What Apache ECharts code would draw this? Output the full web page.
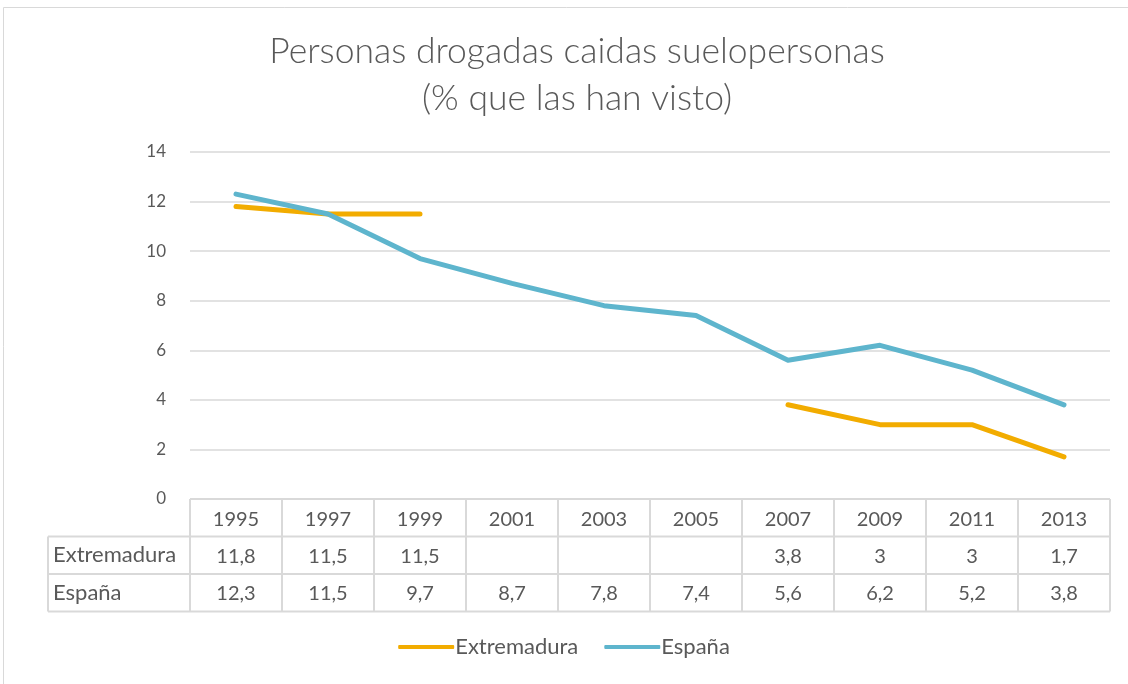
<!DOCTYPE html>
<html>
<head>
<meta charset="utf-8">
<script src="https://cdn.jsdelivr.net/npm/echarts@6/dist/echarts.min.js"></script>
<style>
  html, body { margin: 0; padding: 0; background: #fff; }
  #chart { width: 1128px; height: 684px; }
</style>
</head>
<body>
<div id="chart"></div>
<script>
const years = ['1995', '1997', '1999', '2001', '2003', '2005', '2007', '2009', '2011', '2013']
const extremadura = [11.8, 11.5, 11.5, null, null, null, 3.8, 3, 3, 1.7]
const espana = [12.3, 11.5, 9.7, 8.7, 7.8, 7.4, 5.6, 6.2, 5.2, 3.8]
const yTicks = [0, 2, 4, 6, 8, 10, 12, 14]

const seriesNames = ['Extremadura', 'España']
const seriesColors = ['#F2AC00', '#5EB5CD']
const txt = '#595959'
const lineCol = '#d9d9d9'
const font = 'Lato, "Open Sans", sans-serif'

const chart = echarts.init(document.getElementById('chart'))

const fmt = v => (v === null ? '' : String(v).replace('.', ','))

chart.setOption({
  animation: false,
  textStyle: { fontFamily: font },
  title: {
    text: 'Personas drogadas caidas suelopersonas\n(% que las han visto)',
    left: 572,
    top: 23,
    textAlign: 'center',
    textStyle: { fontSize: 35.5, fontWeight: 300, color: txt, lineHeight: 47, fontFamily: font }
  },
  legend: {
    bottom: 21,
    left: 'center',
    itemWidth: 56,
    itemHeight: 4,
    itemGap: 26,
    icon: 'roundRect',
    textStyle: { fontSize: 22, color: txt, padding: [0, 0, 0, -4] },
    data: seriesNames
  },
  grid: { left: 190, right: 18, top: 152, bottom: 185 },
  xAxis: {
    type: 'category',
    data: years,
    boundaryGap: true,
    axisLine: { show: false },
    axisTick: { show: false },
    axisLabel: { show: false }
  },
  yAxis: {
    type: 'value',
    min: 0,
    max: 14,
    interval: 2,
    axisLine: { show: false },
    axisTick: { show: false },
    axisLabel: { color: txt, fontSize: 17, margin: 24 },
    splitLine: { lineStyle: { color: lineCol, width: 1.5 } }
  },
  series: [
    {
      name: seriesNames[0],
      type: 'line',
      data: extremadura,
      connectNulls: false,
      showSymbol: false,
      symbol: 'none',
      color: seriesColors[0],
      lineStyle: { width: 5, cap: 'round', join: 'round' }
    },
    {
      name: seriesNames[1],
      type: 'line',
      data: espana,
      showSymbol: false,
      symbol: 'none',
      color: seriesColors[1],
      lineStyle: { width: 5, cap: 'round', join: 'round' }
    }
  ]
})

// tabla de datos debajo del eje
function drawTable () {
  const y0 = chart.convertToPixel({ yAxisIndex: 0 }, 0)
  const c0 = chart.convertToPixel({ xAxisIndex: 0 }, 0)
  const c1 = chart.convertToPixel({ xAxisIndex: 0 }, 1)
  const band = c1 - c0
  const xl = c0 - band / 2
  const xr = chart.convertToPixel({ xAxisIndex: 0 }, years.length - 1) + band / 2
  const rowH = 37.5
  const labelLeft = 48
  const els = []
  const ln = (x1, y1, x2, y2) => els.push({
    type: 'line', shape: { x1, y1, x2, y2 }, style: { stroke: lineCol, lineWidth: 2 }, silent: true
  })
  const tx = (text, x, y, align, size) => els.push({
    type: 'text', x, y,
    style: { text, fill: txt, font: (size || 20) + 'px ' + font, align: align || 'center', verticalAlign: 'middle' },
    silent: true
  })
  // lineas horizontales
  ln(xl, y0, xr, y0)
  ln(labelLeft, y0 + rowH, xr, y0 + rowH)
  ln(labelLeft, y0 + 2 * rowH, xr, y0 + 2 * rowH)
  ln(labelLeft, y0 + 3 * rowH, xr, y0 + 3 * rowH)
  // lineas verticales
  ln(labelLeft, y0 + rowH, labelLeft, y0 + 3 * rowH)
  for (let i = 0; i <= years.length; i++) {
    const x = xl + i * band
    ln(x, y0, x, y0 + 3 * rowH)
  }
  years.forEach((yr, i) => {
    const cx = chart.convertToPixel({ xAxisIndex: 0 }, i)
    tx(yr, cx, y0 + rowH / 2 + 2)
    tx(fmt(extremadura[i]), cx, y0 + rowH * 1.5 + 1)
    tx(fmt(espana[i]), cx, y0 + rowH * 2.5 + 1)
  })
  tx(seriesNames[0], labelLeft + 5, y0 + rowH * 1.5, 'left', 22)
  tx(seriesNames[1], labelLeft + 5, y0 + rowH * 2.5, 'left', 22)
  // borde exterior del grafico
  els.push({
    type: 'rect', shape: { x: 3.5, y: 7.5, width: 1140, height: 700 },
    style: { fill: 'none', stroke: '#d9d9d9', lineWidth: 1 }, silent: true
  })
  chart.setOption({ graphic: els })
}
drawTable()
</script>
</body>
</html>
